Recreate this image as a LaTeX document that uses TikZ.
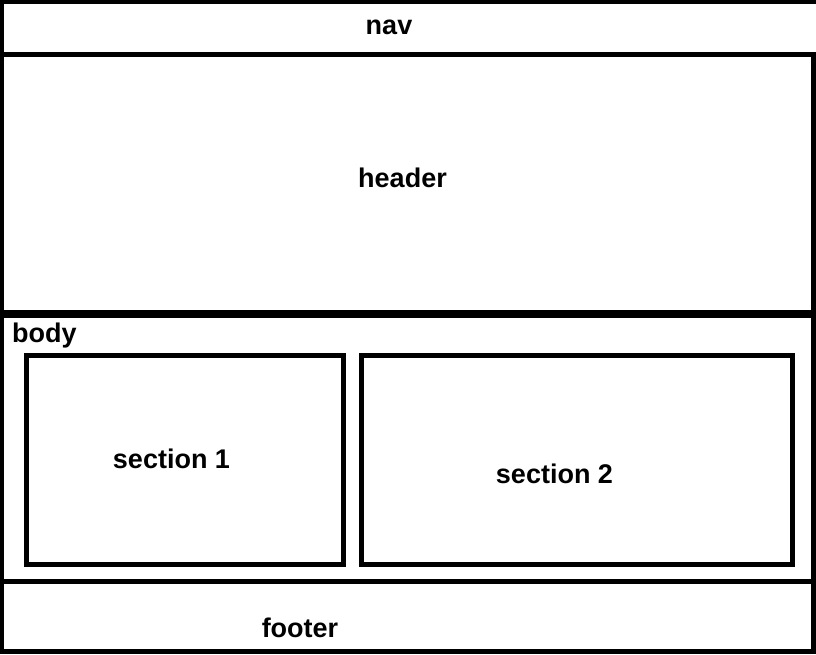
\documentclass[tikz,border=0pt]{standalone}
\usepackage{fontspec}
\setmainfont{Liberation Sans}
\begin{document}
\begin{tikzpicture}[x=1pt,y=-1pt,
  box/.style={draw=black,line width=5pt,inner sep=0pt,outer sep=0pt,rectangle},
  lbl/.style={inner sep=0pt,font=\fontsize{27}{30}\selectfont\bfseries,text=black}]
\useasboundingbox[fill=white] (0,0) rectangle (816,654);
% boxes (centre, width, height of the line centres)
\node[box,minimum width=820pt,minimum height=53pt] (navbox) at (411,27.75) {};
\node[box,minimum width=812pt,minimum height=257.5pt] (headerbox) at (407.75,183.25) {};
\node[box,minimum width=812pt,minimum height=266.5pt] (bodybox) at (407.5,448.25) {};
\node[box,minimum width=812pt,minimum height=70pt] (footerbox) at (407.5,616.5) {};
\node[box,minimum width=317pt,minimum height=208.5pt] (sec1box) at (185,459.75) {};
\node[box,minimum width=431pt,minimum height=208.5pt] (sec2box) at (577,459.75) {};
% labels
\node[lbl,anchor=base] (nav) at (389,34) {nav};
\node[lbl,anchor=base] (header) at (402.5,187) {header};
\node[lbl,anchor=base west] (body) at (12,342) {body};
\node[lbl,anchor=base] (sec1) at (171.5,468) {section 1};
\node[lbl,anchor=base] (sec2) at (554.5,483) {section 2};
\node[lbl,anchor=base] (footer) at (300,637) {footer};
\end{tikzpicture}
\end{document}
